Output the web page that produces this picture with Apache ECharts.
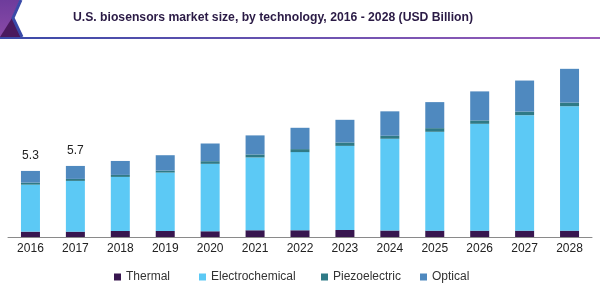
<!DOCTYPE html>
<html>
<head>
<meta charset="utf-8">
<script src="https://cdn.jsdelivr.net/npm/echarts@6/dist/echarts.min.js"></script>
<style>html,body{margin:0;padding:0;background:#fff;}#chart{width:600px;height:289px;}</style>
</head>
<body>
<div id="chart"></div>
<script>
const years = ['2016','2017','2018','2019','2020','2021','2022','2023','2024','2025','2026','2027','2028'];
const thermal = [0.43,0.43,0.48,0.48,0.46,0.54,0.54,0.56,0.52,0.51,0.51,0.51,0.51];
const electrochemical = [3.77,4.07,4.34,4.69,5.41,5.84,6.27,6.75,7.36,7.93,8.57,9.26,9.98];
const piezoelectric = [0.16,0.16,0.16,0.16,0.21,0.24,0.24,0.27,0.24,0.29,0.27,0.29,0.29];
const optical = [0.94,1.04,1.12,1.23,1.42,1.53,1.71,1.82,1.96,2.09,2.33,2.49,2.71];
const totalLabels = ['5.3','5.7','','','','','','','','','','',''];
const title = 'U.S. biosensors market size, by technology, 2016 - 2028 (USD Billion)';

const colors = {Thermal:'#38164f', Electrochemical:'#5cc9f5', Piezoelectric:'#2f7a86', Optical:'#4f89bf'};
const chart = echarts.init(document.getElementById('chart'), null, {renderer:'canvas'});
const font = 'Liberation Sans, Arial, sans-serif';
function ser(name, data, extra) {
  return Object.assign({
    name, type:'bar', stack:'total', data, barWidth:19,
    itemStyle:{color:colors[name]}, emphasis:{disabled:true}
  }, extra || {});
}
const legendPos = [['Thermal',109],['Electrochemical',194],['Piezoelectric',316],['Optical',415]];
chart.setOption({
  animation:false,
  title:{text:title, left:68, top:7, textStyle:{fontFamily:font, fontSize:12.2, fontWeight:'bold', color:'#2a1a45'}},
  grid:{left:8, right:8, top:50, bottom:52},
  xAxis:{type:'category', data:years,
    axisLine:{lineStyle:{color:'#8a8a8a', width:1}}, axisTick:{show:false},
    axisLabel:{fontFamily:font, fontSize:12, color:'#222', margin:6}},
  yAxis:{type:'value', min:0, max:15, show:false, splitLine:{show:false}},
  legend: legendPos.map(([n,l]) => ({data:[n], left:l, top:266, itemWidth:7, itemHeight:7, itemGap:0,
    icon:'rect', textStyle:{fontFamily:font, fontSize:12, color:'#333'}})),
  graphic:[
    {type:'polygon', shape:{points:[[0,0],[20,0],[12,18],[21,37],[0,37]]},
      style:{fill:new echarts.graphic.LinearGradient(0,0,0,1,[{offset:0,color:'#6e3c9c'},{offset:1,color:'#8a4aa8'}])}},
    {type:'polygon', shape:{points:[[0,37],[12,18],[21,37]]}, style:{fill:'#4a1a5e'}},
    {type:'polyline', shape:{points:[[21,0],[13,18],[22,37]]}, style:{stroke:'#3a4aa8', lineWidth:3, fill:null}},
    {type:'rect', shape:{x:0, y:37, width:600, height:2},
      style:{fill:new echarts.graphic.LinearGradient(0,0,1,0,[{offset:0,color:'#3a4aa8'},{offset:1,color:'#9a5ab8'}])}}
  ],
  series:[
    ser('Thermal', thermal),
    ser('Electrochemical', electrochemical),
    ser('Piezoelectric', piezoelectric),
    ser('Optical', optical, {label:{show:true, position:'top', distance:9, fontFamily:font, fontSize:12, color:'#222',
      formatter:p => totalLabels[p.dataIndex]}})
  ]
});
</script>
</body>
</html>
